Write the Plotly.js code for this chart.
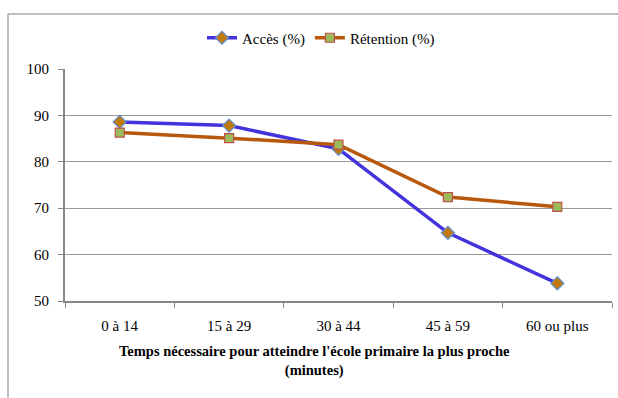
<!DOCTYPE html>
<html>
<head>
<meta charset="utf-8">
<script src="https://cdn.plot.ly/plotly-3.0.1.min.js"></script>
<style>
  html, body { margin: 0; padding: 0; background: #fff; font-family: "Liberation Serif", serif; }
  #chart { width: 618px; height: 398px; }
</style>
</head>
<body>
<div id="chart"></div>
<script>
// Travel time to the nearest primary school (categories)
const categories = ["0 à 14", "15 à 29", "30 à 44", "45 à 59", "60 ou plus"];
// Access and retention rates (%)
const acces = [88.6, 87.8, 82.8, 64.7, 53.8];
const retention = [86.3, 85.1, 83.7, 72.4, 70.3];
const xTitle = "<b>Temps nécessaire pour atteindre l'école primaire la plus proche<br>(minutes)</b>";

const W = 618, H = 398;
const M = { l: 65, r: 6, t: 69, b: 97 };
const pw = W - M.l - M.r, ph = H - M.t - M.b;
// pixel -> paper helpers for the outer frame and the centred caption
const px = x => (x - M.l) / pw;
const py = y => (H - M.b - y) / ph;

const fam = "Liberation Serif";

function draw() {
  const traces = [
    {
      x: categories, y: acces, name: "Accès (%)", type: "scatter", mode: "lines+markers",
      line: { color: "#4433dd", width: 3.5 },
      marker: { symbol: "diamond", size: 10, color: "#c07a10", line: { color: "#5b8fd0", width: 1.2 } }
    },
    {
      x: categories, y: retention, name: "Rétention (%)", type: "scatter", mode: "lines+markers",
      line: { color: "#b8580c", width: 3.5 },
      marker: { symbol: "square", size: 9, color: "#9bbb59", line: { color: "#c0504d", width: 1.2 } }
    }
  ];

  const layout = {
    width: W, height: H,
    margin: M,
    paper_bgcolor: "#fff", plot_bgcolor: "#fff",
    font: { family: fam, size: 15, color: "#000" },
    showlegend: true,
    legend: {
      orientation: "h", x: px(321), xanchor: "center", y: py(38), yanchor: "middle",
      font: { family: fam, size: 15, color: "#000" }, itemwidth: 30, tracegroupgap: 0,
      bgcolor: "rgba(0,0,0,0)"
    },
    xaxis: {
      type: "category", range: [-0.5, 4.5],
      showline: true, linecolor: "#888", linewidth: 2,
      ticks: "outside", tickson: "boundaries", ticklen: 5, tickcolor: "#888", tickwidth: 1,
      ticklabelstandoff: 10,
      showgrid: false, zeroline: false,
      tickfont: { family: fam, size: 15, color: "#000" }
    },
    yaxis: {
      range: [50, 100], dtick: 10, tick0: 50,
      showline: true, linecolor: "#888", linewidth: 2,
      ticks: "outside", ticklen: 5, tickcolor: "#888", tickwidth: 1,
      ticklabelstandoff: 6,
      showgrid: true, gridcolor: "#999", gridwidth: 1, zeroline: false,
      tickfont: { family: fam, size: 15, color: "#000" }
    },
    // category-axis caption, centred on the whole chart frame
    annotations: [
      { text: xTitle, xref: "paper", yref: "paper", x: px(314), y: py(341),
        xanchor: "center", yanchor: "top", showarrow: false, align: "center",
        font: { family: fam, size: 14.5, color: "#000" } }
    ],
    shapes: [
      { type: "line", xref: "paper", yref: "paper", x0: px(8), x1: px(8), y0: py(14), y1: py(H + 2),
        line: { color: "#aaa", width: 1.5 } },
      { type: "line", xref: "paper", yref: "paper", x0: px(8), x1: px(W + 2), y0: py(14), y1: py(14),
        line: { color: "#aaa", width: 1.5 } }
    ]
  };

  Plotly.newPlot("chart", traces, layout, { displayModeBar: false, staticPlot: true });
}

// make sure the serif face is ready before text is measured
Promise.all([
  document.fonts.load('15px "Liberation Serif"'),
  document.fonts.load('bold 15px "Liberation Serif"')
]).then(draw, draw);
</script>
</body>
</html>
